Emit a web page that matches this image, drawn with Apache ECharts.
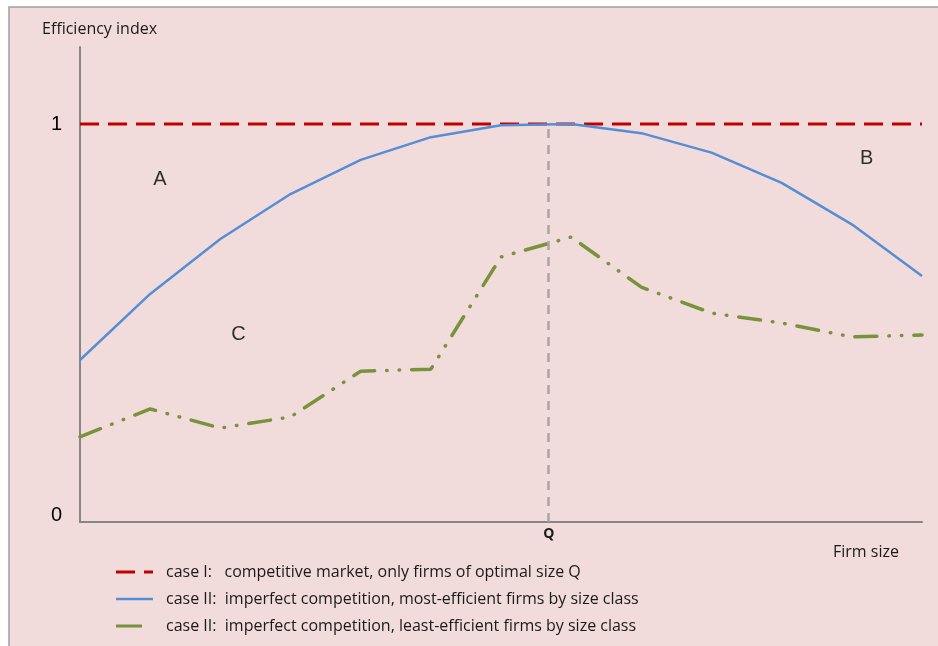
<!DOCTYPE html>
<html>
<head>
<meta charset="utf-8">
<script src="https://cdn.jsdelivr.net/npm/echarts@6/dist/echarts.min.js"></script>
<style>
html,body{margin:0;padding:0;background:#ffffff;}
#chart{width:938px;height:646px;}
</style>
</head>
<body>
<div id="chart"></div>
<script>
// ---- data ----
const sizeClasses = [0,1,2,3,4,5,6,7,8,9,10,11,12];
const caseI = [1,1,1,1,1,1,1,1,1,1,1,1,1];
const mostEfficient = [0.407,0.573,0.711,0.824,0.910,0.967,0.997,1.000,0.977,0.928,0.852,0.748,0.618];
const leastEfficient = [0.214,0.284,0.236,0.264,0.379,0.384,0.666,0.716,0.590,0.525,0.500,0.465,0.470];
const optimalSize = 6.68;
const yTicks = [0,1];
const regionLabels = [
  {name:'A', x:1.14, y:0.86},
  {name:'B', x:11.21, y:0.913},
  {name:'C', x:2.26, y:0.472}
];
const seriesNames = [
  'case I:   competitive market, only firms of optimal size Q',
  'case II:  imperfect competition, most-efficient firms by size class',
  'case II:  imperfect competition, least-efficient firms by size class'
];
const axisTitles = {y:'Efficiency index', x:'Firm size', q:'Q'};

// ---- chart ----
const chart = echarts.init(document.getElementById('chart'), null, {renderer:'canvas'});
const pair = (arr) => sizeClasses.map((x,i)=>[x,arr[i]]);
const font = '"Open Sans", Lato, sans-serif';
const red = '#c00000', blue = '#558ed5', green = '#77933c';

const legendRows = [
  {color:red, dash:[19,9], len:37},
  {color:blue, dash:null, len:37},
  {color:green, dash:null, len:26}
];
const legendGraphics = [];
seriesNames.forEach((name,i)=>{
  const y = 572 + i*27;
  const r = legendRows[i];
  legendGraphics.push({
    type:'line', z:100,
    shape:{x1:116, y1:y, x2:116+r.len, y2:y},
    style:{stroke:r.color, lineWidth:i===1?2.5:3, lineDash:r.dash}
  });
  legendGraphics.push({
    type:'text', z:100, x:166, y:y,
    style:{text:name, fill:'#1a1a1a', font:'16px ' + font, verticalAlign:'middle', textAlign:'left'}
  });
});

const option = {
  animation:false,
  backgroundColor:'#ffffff',
  title:[
    {text:axisTitles.y, left:37, top:16, textStyle:{fontFamily:font, fontSize:16, fontWeight:'normal', color:'#1a1a1a'}},
    {text:axisTitles.x, left:828, top:539, textStyle:{fontFamily:font, fontSize:16, fontWeight:'normal', color:'#1a1a1a'}}
  ],
  grid:{left:80, right:16, top:47, bottom:124, containLabel:false},
  xAxis:{
    type:'value', min:0, max:12,
    axisLine:{show:true, lineStyle:{color:'#868686', width:2}},
    axisTick:{show:false}, axisLabel:{show:false}, splitLine:{show:false}
  },
  yAxis:{
    type:'value', min:0, max:1.1935, interval:1,
    axisLine:{show:true, lineStyle:{color:'#868686', width:2}},
    axisTick:{show:false}, splitLine:{show:false},
    axisLabel:{
      margin:18, fontFamily:'"Liberation Sans", Arial, sans-serif', fontSize:20, color:'#000',
      formatter:(v)=> yTicks.indexOf(v)>=0 ? (v===0 ? '{z|0}' : '{o|' + v + '}') : '',
      rich:{z:{fontSize:20, fontFamily:'"Liberation Sans", Arial, sans-serif', color:'#000', padding:[0,0,14,0]},
            o:{fontSize:20, fontFamily:'"Liberation Sans", Arial, sans-serif', color:'#000'}}
    }
  },
  graphic:[
    {type:'rect', z:-10, silent:true, shape:{x:9, y:7, width:960, height:680},
     style:{fill:'#f2dcdb', stroke:'#a0a0a0', lineWidth:1.5}},
    ...legendGraphics
  ],
  series:[
    {
      name:seriesNames[0], type:'line', data:pair(caseI), symbol:'none', z:3,
      lineStyle:{color:red, width:3, type:[19,9]}
    },
    {
      name:seriesNames[1], type:'line', data:pair(mostEfficient), symbol:'none', z:4,
      lineStyle:{color:blue, width:2.5}
    },
    {
      name:seriesNames[2], type:'line', data:pair(leastEfficient), symbol:'none', z:4,
      lineStyle:{color:green, width:3.5, type:[22,12,0.5,12,0.5,12], cap:'round'}
    },
    {
      name:'optimal', type:'line', data:[], symbol:'none', z:2,
      markLine:{
        silent:true, symbol:['none','none'],
        lineStyle:{color:'#a6a6a6', width:2.5, type:[9,7]},
        label:{show:true, position:'start', formatter:axisTitles.q, distance:5,
               fontFamily:font, fontSize:14, fontWeight:'bold', color:'#1a1a1a'},
        data:[[{coord:[optimalSize,0]},{coord:[optimalSize,1]}]]
      }
    },
    {
      name:'regions', type:'scatter', symbolSize:0, z:5,
      data:regionLabels.map(r=>({name:r.name, value:[r.x,r.y]})),
      label:{show:true, position:'inside', formatter:(p)=>p.name,
             fontFamily:'"Liberation Sans", Arial, sans-serif', fontSize:20, color:'#000'}
    }
  ]
};
chart.setOption(option);
</script>
</body>
</html>
